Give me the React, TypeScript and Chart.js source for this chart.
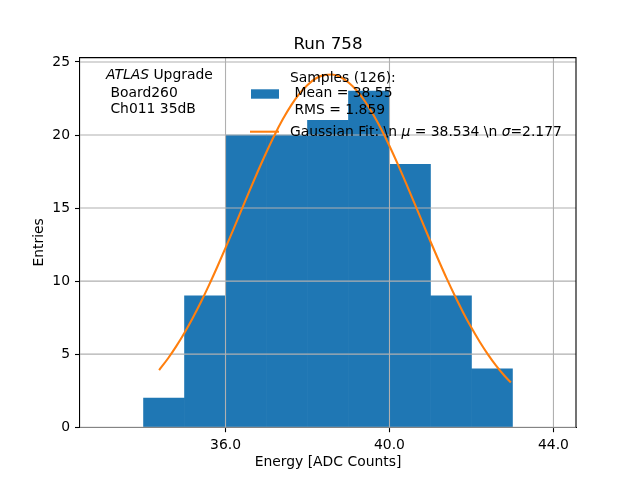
import React, { useEffect, useRef } from 'react';
import { Chart, registerables } from 'chart.js';

Chart.register(...registerables);

const FONT = '"DejaVu Sans", "Liberation Sans", sans-serif';

// histogram bins (left edge, width 1) and counts
const binLeft = [34, 35, 36, 37, 38, 39, 40, 41, 42];
const binCounts = [2, 9, 20, 20, 21, 23, 18, 9, 4];

// gaussian fit curve
const fitX = [
  34.38, 34.6, 34.8, 35.0, 35.2, 35.4, 35.6, 35.8, 36.0, 36.2, 36.4, 36.6, 36.8, 37.0, 37.2, 37.4,
  37.6, 37.8, 38.0, 38.2, 38.4, 38.6, 38.8, 39.0, 39.2, 39.4, 39.6, 39.8, 40.0, 40.2, 40.4, 40.6,
  40.8, 41.0, 41.2, 41.4, 41.6, 41.8, 42.0, 42.2, 42.4, 42.6, 42.8, 42.96,
];
const fitY = [
  3.91, 4.72, 5.55, 6.47, 7.48, 8.57, 9.74, 10.98, 12.27, 13.59, 14.94, 16.28, 17.59, 18.84, 20.02, 21.09,
  22.03, 22.82, 23.43, 23.87, 24.1, 24.14, 23.97, 23.6, 23.05, 22.31, 21.42, 20.39, 19.25, 18.02, 16.73, 15.39,
  14.05, 12.71, 11.41, 10.15, 8.96, 7.84, 6.8, 5.85, 4.99, 4.22, 3.54, 3.06,
];

const xTicks = [36, 40, 44];
const yTicks = [0, 5, 10, 15, 20, 25];

const titleText = 'Run 758';
const infoLines = [' Board260', ' Ch011 35dB'];
const sampleLines = ['Samples (126):', ' Mean = 38.55', ' RMS = 1.859'];
const fitLabel: [string, boolean][] = [
  ['Gaussian Fit: \\n ', false],
  ['\u03bc', true],
  [' = 38.534 \\n ', false],
  ['\u03c3', true],
  ['=2.177', false],
];

const overlay = {
  id: 'overlay',
  afterDatasetDraw(chart: any, args: any) {
    // grid sits above the bars but under the fit line
    if (args.index !== 1) return;
    const { ctx, chartArea: a, scales } = chart;
    ctx.save();
    ctx.strokeStyle = '#b0b0b0';
    ctx.lineWidth = 1.1;
    ctx.beginPath();
    xTicks.forEach((v) => {
      const px = scales.x.getPixelForValue(v);
      ctx.moveTo(px, a.top);
      ctx.lineTo(px, a.bottom);
    });
    yTicks.forEach((v) => {
      const py = scales.y.getPixelForValue(v);
      ctx.moveTo(a.left, py);
      ctx.lineTo(a.right, py);
    });
    ctx.stroke();
    ctx.restore();
  },
  afterDraw(chart: any) {
    const { ctx, chartArea: a } = chart;
    ctx.save();
    // top and right spines
    ctx.strokeStyle = '#000';
    ctx.lineWidth = 1.1;
    ctx.beginPath();
    ctx.moveTo(a.left, a.top);
    ctx.lineTo(a.right, a.top);
    ctx.lineTo(a.right, a.bottom);
    ctx.stroke();

    // title, centred over the axes
    ctx.fillStyle = '#000';
    ctx.textBaseline = 'alphabetic';
    ctx.textAlign = 'center';
    ctx.font = `16.7px ${FONT}`;
    ctx.fillText(titleText, (a.left + a.right) / 2, a.top - 8.3);

    const normal = `13.9px ${FONT}`;
    const italic = `italic 13.9px ${FONT}`;
    ctx.textAlign = 'left';

    // info text
    ctx.font = italic;
    ctx.fillText('ATLAS', 106, 78.7);
    const w = ctx.measureText('ATLAS').width;
    ctx.font = normal;
    ctx.fillText(' Upgrade', 106 + w, 78.7);
    ctx.fillText(infoLines[0], 106, 96.8);
    ctx.fillText(infoLines[1], 106, 112.6);

    // legend
    ctx.fillStyle = '#1f77b4';
    ctx.fillRect(251, 89.3, 28, 9.4);
    ctx.strokeStyle = '#ff7f0e';
    ctx.lineWidth = 2.08;
    ctx.beginPath();
    ctx.moveTo(250, 131.7);
    ctx.lineTo(279, 131.7);
    ctx.stroke();

    ctx.fillStyle = '#000';
    ctx.font = normal;
    ctx.fillText(sampleLines[0], 290, 81.7);
    ctx.fillText(sampleLines[1], 290, 97.3);
    ctx.fillText(sampleLines[2], 290, 113.8);

    let x = 290;
    fitLabel.forEach(([t, it]) => {
      ctx.font = it ? italic : normal;
      ctx.fillText(t, x, 136);
      x += ctx.measureText(t).width;
    });
    ctx.restore();
  },
};

const App: React.FC = () => {
  const canvasRef = useRef<HTMLCanvasElement>(null);
  const chartRef = useRef<Chart | null>(null);

  useEffect(() => {
    if (chartRef.current) chartRef.current.destroy();
    if (!canvasRef.current) return;
    const ctx = canvasRef.current.getContext('2d');
    if (!ctx) return;

    Chart.defaults.font.family = FONT;
    Chart.defaults.font.size = 13.9;
    Chart.defaults.color = '#000';

    // @ts-ignore
    chartRef.current = new Chart(ctx, {
      type: 'bar',
      data: {
        datasets: [
          {
            type: 'line',
            label: 'Gaussian Fit',
            data: fitX.map((x, i) => ({ x, y: fitY[i] })),
            borderColor: '#ff7f0e',
            borderWidth: 2.08,
            pointRadius: 0,
            cubicInterpolationMode: 'monotone',
            fill: false,
            order: 0,
          },
          {
            type: 'bar',
            label: 'Samples',
            data: binLeft.map((l, i) => ({ x: l + 0.5, y: binCounts[i] })),
            backgroundColor: '#1f77b4',
            borderWidth: 0,
            barPercentage: 1,
            categoryPercentage: 1,
            grouped: false,
            order: 1,
          },
        ],
      },
      options: {
        responsive: false,
        animation: false,
        events: [],
        layout: { padding: { left: 0, right: 64, top: 57.6, bottom: 0 } },
        plugins: {
          legend: { display: false },
          tooltip: { enabled: false },
          title: { display: false },
        },
        scales: {
          x: {
            type: 'linear',
            min: 32.45,
            max: 44.55,
            offset: false,
            afterBuildTicks: (s: any) => {
              s.ticks = xTicks.map((v) => ({ value: v }));
            },
            afterFit: (s: any) => {
              s.height = 52.8;
            },
            ticks: {
              callback: (v: any) => Number(v).toFixed(1),
              padding: 5,
              maxRotation: 0,
              autoSkip: false,
              color: '#000',
            },
            grid: { drawOnChartArea: false, offset: false, tickLength: 5, tickColor: '#000', tickWidth: 1.1 },
            border: { color: '#000', width: 1.1 },
            title: {
              display: true,
              text: 'Energy [ADC Counts]',
              color: '#000',
              padding: { top: 0, bottom: 9.7 },
            },
          },
          y: {
            type: 'linear',
            min: 0,
            max: 25.3,
            afterBuildTicks: (s: any) => {
              s.ticks = yTicks.map((v) => ({ value: v }));
            },
            afterFit: (s: any) => {
              s.width = 80;
            },
            ticks: { padding: 5, color: '#000' },
            grid: { drawOnChartArea: false, tickLength: 5, tickColor: '#000', tickWidth: 1.1 },
            border: { color: '#000', width: 1.1 },
            title: {
              display: true,
              text: 'Entries',
              color: '#000',
              padding: { top: 31.2, bottom: 0 },
            },
          },
        },
      },
      plugins: [overlay],
    });

    return () => {
      if (chartRef.current) {
        chartRef.current.destroy();
        chartRef.current = null;
      }
    };
  }, []);

  return (
    <div style={{ position: 'fixed', left: 0, top: 0, width: 640, height: 480, background: '#fff' }}>
      <canvas ref={canvasRef} width={640} height={480}></canvas>
    </div>
  );
};

export default App;
